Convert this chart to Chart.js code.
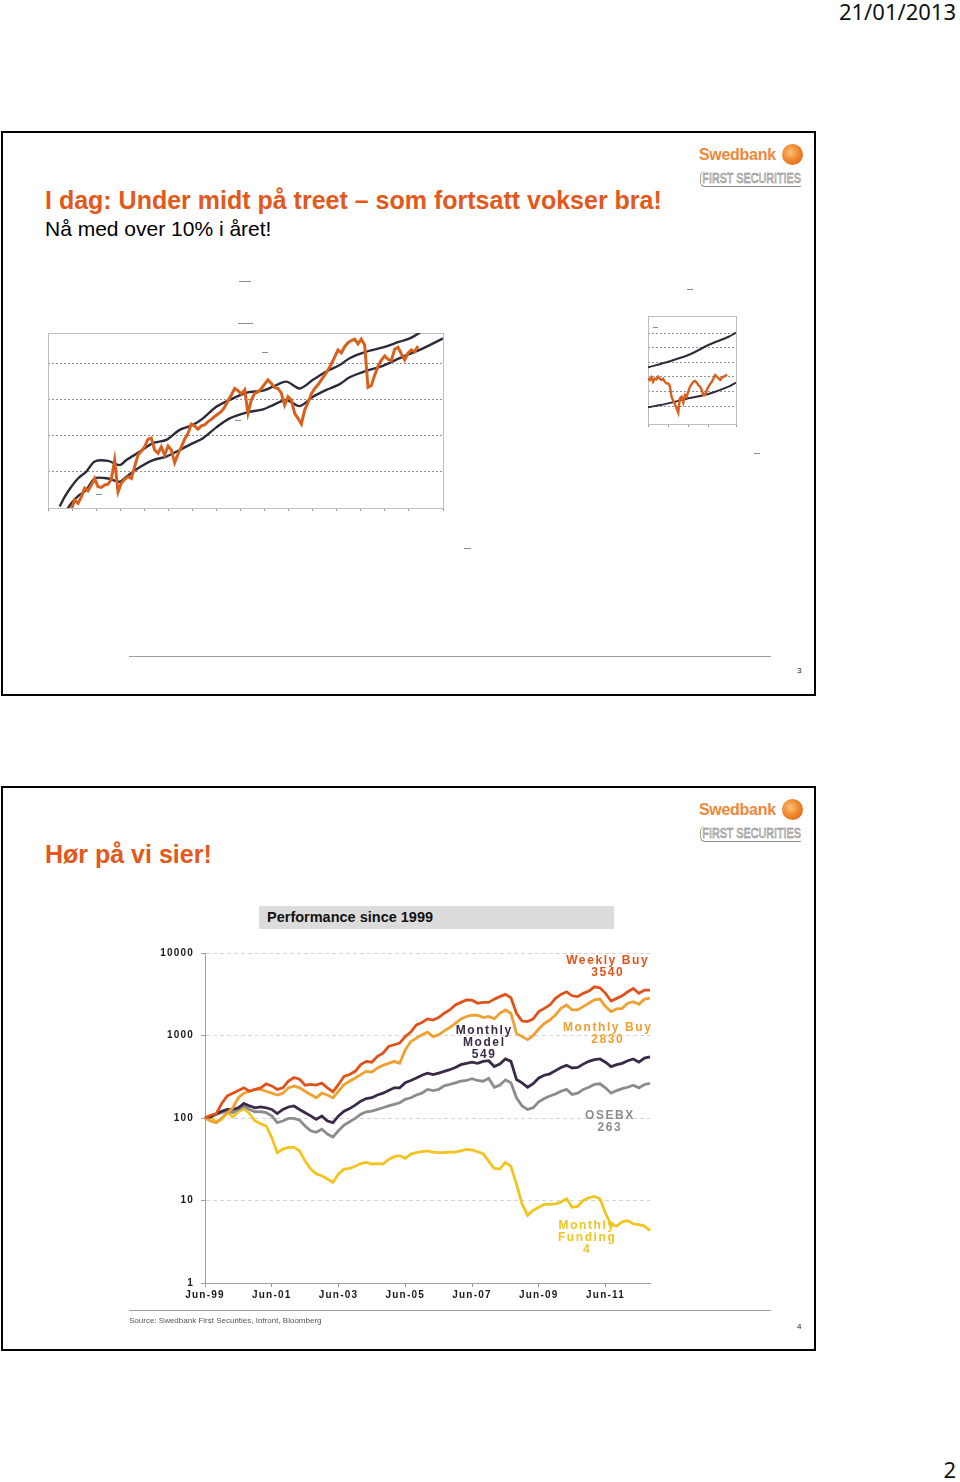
<!DOCTYPE html>
<html>
<head>
<meta charset="utf-8">
<script src="https://cdn.jsdelivr.net/npm/chart.js@4.4.1/dist/chart.umd.min.js"></script>
<style>
  html, body { margin: 0; padding: 0; background: #fff; }
  body { width: 960px; height: 1482px; position: relative; overflow: hidden; font-family: 'Liberation Sans', Arial, sans-serif; }
  .abs { position: absolute; }
  .date { right: 4px; top: -4px; font-family: 'Noto Sans', sans-serif; font-size: 22px; line-height: 30px; color: #111; }
  .pageno { right: 4px; top: 1454px; font-family: 'Noto Sans', sans-serif; font-size: 22px; line-height: 30px; color: #111; }
  .slide { position: absolute; left: 1px; width: 811px; height: 561px; border: 2px solid #000; }
  .title { left: 45px; font-size: 25px; font-weight: bold; color: #E2591B; line-height: 30px; white-space: nowrap; }
  .sub { left: 45px; font-size: 21px; color: #000; line-height: 26px; white-space: nowrap; }
  .foot { left: 129px; width: 642px; height: 0; border-top: 1px solid #9c9c9c; }
  .num { left: 797px; font-size: 8px; color: #222; }
  .source { left: 129px; font-size: 8px; color: #555; }
  .perf { left: 259px; width: 347px; height: 23px; padding-left: 8px; background: #dcdcdc; font-size: 14.5px; font-weight: bold; line-height: 23px; color: #111; }
  .swed { font-size: 16px; font-weight: bold; letter-spacing: -0.3px; color: #EE8838; line-height: 20px; }
  .sun { width: 21px; height: 21px; border-radius: 50%; background: radial-gradient(circle at 40% 40%, #F9C27A 0%, #F08A30 45%, #DA5410 100%); }
  .fs { font-size: 14px; font-weight: normal; color: #f6f6f6; -webkit-text-stroke: 0.6px #767676; line-height: 15px; white-space: nowrap; transform: scaleX(0.77); transform-origin: left top; border-left: 1.5px solid #8a8a8a; border-bottom: 1px solid #8a8a8a; border-radius: 6px 0 0 6px; padding-left: 2px; }
  .mk { position: absolute; height: 1px; background: #8a8a8a; }
  canvas { position: absolute; }
</style>
</head>
<body>

<div class="abs date">21/01/2013</div>

<!-- slide 3 -->
<div class="slide" style="top:131px"></div>
<div class="abs title" style="top:185px">I dag: Under midt på treet – som fortsatt vokser bra!</div>
<div class="abs sub" style="top:216px">Nå med over 10% i året!</div>
<div class="abs swed" style="left:699px; top:145px">Swedbank</div>
<div class="abs sun" style="left:782px; top:144px"></div>
<div class="abs fs" style="left:700px; top:171px">FIRST SECURITIES</div>
<canvas id="mainChart" width="440" height="200" style="left:40px; top:325px"></canvas>
<canvas id="smallChart" width="110" height="130" style="left:640px; top:305px"></canvas>
<div class="abs foot" style="top:656px"></div>
<div class="abs num" style="top:666px">3</div>

<!-- slide 4 -->
<div class="slide" style="top:786px"></div>
<div class="abs title" style="top:839px">Hør på vi sier!</div>
<div class="abs swed" style="left:699px; top:800px">Swedbank</div>
<div class="abs sun" style="left:782px; top:799px"></div>
<div class="abs fs" style="left:700px; top:826px">FIRST SECURITIES</div>
<div class="abs perf" style="top:906px">Performance since 1999</div>
<canvas id="perfChart" width="530" height="372" style="left:140px; top:940px"></canvas>
<div class="abs foot" style="top:1310px"></div>
<div class="abs source" style="top:1316px">Source: Swedbank First Securities, Infront, Bloomberg</div>
<div class="abs num" style="top:1322px">4</div>

<div class="abs pageno">2</div>

<script>
// ---- slide 3, main chart: index against its trend channel ----
const mainStart = 7;
const mainIndex = [
  -0.04, 0.22, 0.13, 0.31, 0.55, 0.48, 0.64, 0.82, 0.59, 0.57,
  0.64, 0.66, 0.80, 1.33, 0.45, 0.69, 0.80, 0.87, 0.82, 1.15,
  1.47, 1.58, 1.70, 1.91, 1.94, 1.61, 1.52, 1.70, 1.47, 1.72,
  1.61, 1.26, 1.50, 1.70, 1.91, 2.07, 2.33, 2.28, 2.19, 2.28,
  2.31, 2.40, 2.46, 2.54, 2.61, 2.68, 2.80, 2.98, 3.14, 3.32,
  3.26, 3.17, 3.28, 2.63, 3.00, 3.19, 3.22, 3.32, 3.44, 3.56,
  3.46, 3.35, 3.32, 3.19, 2.86, 3.09, 3.00, 2.63, 2.49, 2.33,
  2.72, 2.93, 3.17, 3.32, 3.42, 3.56, 3.69, 3.83, 4.00, 4.19,
  4.39, 4.31, 4.48, 4.59, 4.65, 4.69, 4.56, 4.69, 4.53, 3.35,
  3.40, 3.69, 3.93, 4.11, 4.22, 4.13, 4.09, 4.41, 4.46, 4.28,
  4.11, 4.30, 4.39, 4.34, 4.50
];
const channelX = [3.5, 5, 7, 9, 11.5, 14, 18, 21.5, 23.5, 27.5, 31.5, 35.5, 39.5, 43.5, 46.5, 50.5,
  54.5, 59.5, 64.5, 67.5, 71.5, 75.5, 79.5, 83.5, 87.5, 90.5, 95.5, 100.5, 105.5, 108.5, 111.5, 118.5];
const channelUpper = [0.04, 0.31, 0.59, 0.82, 1.01, 1.29, 1.31, 1.19, 1.33, 1.56, 1.80, 1.89, 2.17, 2.31, 2.49, 2.81,
  3.00, 3.20, 3.26, 3.37, 3.51, 3.32, 3.56, 3.79, 3.97, 4.16, 4.34, 4.46, 4.62, 4.71, 4.87, 5.30];
const channelLower = [-0.35, -0.15, 0.13, 0.33, 0.50, 0.82, 0.82, 0.73, 0.87, 1.13, 1.33, 1.43, 1.61, 1.80, 1.94, 2.24,
  2.49, 2.65, 2.74, 2.86, 3.00, 2.83, 3.09, 3.28, 3.44, 3.63, 3.81, 3.95, 4.16, 4.28, 4.39, 4.71];
const mainGrid = [0, 1, 2, 3, 4];

// ---- slide 3, small chart ----
const smallIndex = [
  2.90, 2.79, 2.97, 2.67, 2.90, 2.83, 3.02, 2.88, 2.79, 2.88,
  2.67, 2.56, 2.56, 2.38, 1.64, 1.37, 1.14, 0.84, 0.54, 1.53,
  1.64, 1.23, 1.76, 1.64, 1.99, 2.33, 2.51, 2.67, 2.72, 2.61,
  2.44, 2.33, 2.10, 1.76, 1.76, 2.10, 2.33, 2.51, 2.67, 2.90,
  3.13, 3.02, 2.90, 2.79, 2.95, 3.02, 3.06, 3.18
];
const smallChannelX = [0, 12, 24, 36, 48, 52.4];
const smallUpper = [3.66, 4.05, 4.51, 5.20, 5.77, 6.05];
const smallLower = [0.91, 1.18, 1.53, 1.83, 2.33, 2.61];
const smallGrid = [1, 2, 3, 4, 5, 6];

// ---- slide 4: performance since 1999, every second month from Jun-99 ----
const weeklyBuy = [
  100, 108, 112, 150, 185, 200, 215, 232, 211, 222,
  232, 260, 245, 222, 232, 280, 310, 295, 250, 255,
  250, 265, 232, 208, 255, 320, 336, 368, 443, 486,
  475, 558, 612, 735, 772, 810, 970, 1100, 1344, 1440,
  1590, 1540, 1650, 1860, 2040, 2340, 2520, 2700, 2680, 2460,
  2520, 2520, 2760, 2960, 3150, 2870, 1860, 1500, 1474, 1590,
  1946, 2134, 2340, 2817, 3150, 3389, 3030, 2960, 3240, 3450,
  3894, 3780, 3240, 2620, 2817, 3030, 3389, 3718, 3240, 3550,
  3540
];
const monthlyBuy = [
  100, 92, 88, 100, 116, 133, 176, 200, 211, 222,
  222, 211, 200, 190, 200, 232, 245, 232, 211, 193,
  176, 200, 190, 176, 211, 255, 279, 306, 336, 368,
  360, 404, 435, 460, 486, 460, 670, 847, 929, 1019,
  1100, 970, 1019, 1140, 1250, 1400, 1590, 1700, 1760, 1760,
  1650, 1700, 1590, 1860, 2040, 1860, 1060, 970, 890, 1000,
  1200, 1400, 1540, 1774, 2134, 2340, 2040, 2040, 2240, 2460,
  2700, 2760, 2240, 1946, 2100, 2134, 2460, 2568, 2390, 2760,
  2830
];
const monthlyModel = [
  100, 103, 111, 121, 127, 127, 133, 150, 140, 133,
  136, 133, 127, 113, 127, 136, 140, 127, 116, 106,
  96, 106, 92, 88, 106, 121, 130, 143, 160, 172,
  176, 190, 200, 215, 232, 232, 267, 285, 306, 330,
  350, 336, 350, 368, 385, 410, 443, 460, 475, 460,
  486, 495, 420, 450, 520, 486, 293, 267, 236, 260,
  306, 330, 343, 375, 410, 435, 404, 410, 450, 486,
  510, 520, 475, 420, 443, 460, 495, 520, 475, 533,
  549
];
const osebx = [
  100, 106, 111, 116, 121, 116, 127, 140, 127, 119,
  119, 116, 106, 88, 92, 99, 99, 94, 80, 70,
  67, 73, 64, 59, 70, 82, 90, 99, 111, 119,
  121, 127, 133, 140, 146, 153, 168, 176, 190, 200,
  222, 215, 222, 245, 255, 267, 279, 285, 300, 285,
  279, 303, 236, 250, 290, 267, 176, 140, 127, 133,
  157, 172, 185, 195, 211, 222, 193, 200, 222, 236,
  255, 260, 232, 200, 215, 227, 236, 250, 232, 255,
  263
];
const monthlyFunding = [
  100, 103, 88, 96, 116, 103, 119, 130, 113, 92,
  85, 80, 58, 38, 42, 44, 44, 40, 30, 24,
  21, 20, 18.2, 16.6, 21, 24, 24.5, 26, 28, 29,
  27.7, 28, 27.7, 31.5, 34, 35, 32.5, 36.5, 38, 39,
  40, 38.5, 38, 38, 38.5, 38.5, 40, 41.5, 41, 39,
  37, 30, 24.5, 24, 29, 26, 15.8, 9.1, 6.6, 7.6,
  8.3, 9, 9, 9.1, 9.6, 10.5, 8.3, 8.5, 10, 10.8,
  11.2, 10.5, 7, 5.1, 4.9, 5.5, 5.7, 5.2, 5.1, 4.9,
  4.3
];
const perfTicks = [1, 10, 100, 1000, 10000];
const monthAbbr = ['Jan', 'Feb', 'Mar', 'Apr', 'May', 'Jun', 'Jul', 'Aug', 'Sep', 'Oct', 'Nov', 'Dec'];

const colWeekly = '#E0521A';
const colMBuy = '#F0A030';
const colModel = '#3B2A45';
const colOsebx = '#8C8C8C';
const colFunding = '#F2C41E';

// labels of the lines, placed in chart values (category index, level)
const perfNotes = [
  { lines: ['Weekly Buy', '3540'], at: 72.4, value: 8000, color: colWeekly },
  { lines: ['Monthly Buy', '2830'], at: 72.4, value: 1250, color: colMBuy },
  { lines: ['Monthly', 'Model', '549'], at: 50.2, value: 1150, color: colModel },
  { lines: ['OSEBX', '263'], at: 72.8, value: 106, color: colOsebx },
  { lines: ['Monthly', 'Funding', '4'], at: 68.7, value: 5, color: colFunding }
];

const perfLabels = [];
for (let i = 0; i < weeklyBuy.length; i++) {
  const m = 5 + 2 * i;
  perfLabels.push(monthAbbr[m % 12] + '-' + String((99 + Math.floor(m / 12)) % 100).padStart(2, '0'));
}

const frame = {
  id: 'frame',
  beforeDatasetsDraw(chart) {
    const { ctx, chartArea: a } = chart;
    ctx.save();
    ctx.strokeStyle = '#bdbdbd';
    ctx.lineWidth = 1;
    ctx.strokeRect(Math.round(a.left) + 0.5, Math.round(a.top) + 0.5, Math.round(a.width), Math.round(a.height));
    ctx.restore();
  }
};

const xy = (xs, ys) => ys.map((v, i) => ({ x: xs[i], y: v }));
const seq = (start, ys) => ys.map((v, i) => ({ x: start + i, y: v }));

// main chart
new Chart(document.getElementById('mainChart'), {
  type: 'line',
  data: {
    datasets: [
      { data: seq(mainStart, mainIndex), borderColor: '#D8601C', borderWidth: 3, pointRadius: 0, tension: 0 },
      { data: xy(channelX, channelUpper), borderColor: '#2E2A3C', borderWidth: 2.4, pointRadius: 0, tension: 0.3 },
      { data: xy(channelX, channelLower), borderColor: '#2E2A3C', borderWidth: 2.4, pointRadius: 0, tension: 0.3 }
    ]
  },
  options: {
    responsive: false,
    animation: false,
    layout: { padding: { top: 8, left: 8, right: 37, bottom: 0 } },
    plugins: { legend: { display: false }, tooltip: { enabled: false } },
    scales: {
      x: {
        type: 'linear', min: 0, max: 118.5,
        ticks: { display: false, stepSize: 7.2 },
        grid: { drawOnChartArea: false, tickLength: 3, color: '#999' },
        border: { color: '#aaa' },
        afterFit: s => { s.height = 17; }
      },
      y: {
        min: 0, max: 4.86,
        afterBuildTicks: s => { s.ticks = mainGrid.map(v => ({ value: v })); },
        ticks: { display: false },
        grid: { color: '#8f8f8f', drawTicks: false },
        border: { display: false, dash: [2, 2] },
        afterFit: s => { s.width = 0; }
      }
    }
  },
  plugins: [frame]
});

// small chart
new Chart(document.getElementById('smallChart'), {
  type: 'line',
  data: {
    datasets: [
      { data: seq(0, smallIndex), borderColor: '#D8601C', borderWidth: 2.4, pointRadius: 0, tension: 0 },
      { data: xy(smallChannelX, smallUpper), borderColor: '#2E2A3C', borderWidth: 2, pointRadius: 0, tension: 0.3 },
      { data: xy(smallChannelX, smallLower), borderColor: '#2E2A3C', borderWidth: 2, pointRadius: 0, tension: 0.3 }
    ]
  },
  options: {
    responsive: false,
    animation: false,
    layout: { padding: { top: 11, left: 8, right: 14, bottom: 0 } },
    plugins: { legend: { display: false }, tooltip: { enabled: false } },
    scales: {
      x: {
        type: 'linear', min: 0, max: 52.4,
        ticks: { display: false, stepSize: 12 },
        grid: { drawOnChartArea: false, tickLength: 3, color: '#999' },
        border: { color: '#aaa' },
        afterFit: s => { s.height = 11; }
      },
      y: {
        min: -0.24, max: 7.2,
        afterBuildTicks: s => { s.ticks = smallGrid.map(v => ({ value: v })); },
        ticks: { display: false },
        grid: { color: '#8f8f8f', drawTicks: false },
        border: { display: false, dash: [2, 2] },
        afterFit: s => { s.width = 0; }
      }
    }
  },
  plugins: [frame]
});

// performance chart
const spacing = {
  id: 'spacing',
  beforeUpdate(chart) { chart.ctx.letterSpacing = '1.2px'; },
  beforeDraw(chart) { chart.ctx.letterSpacing = '1.2px'; }
};

const notes = {
  id: 'notes',
  afterDatasetsDraw(chart) {
    const { ctx, scales: { x, y } } = chart;
    ctx.save();
    ctx.font = 'bold 12px "Liberation Sans", Arial, sans-serif';
    ctx.letterSpacing = '1.6px';
    ctx.textAlign = 'center';
    ctx.textBaseline = 'middle';
    perfNotes.forEach(n => {
      const px = x.getPixelForValue(n.at);
      const py = y.getPixelForValue(n.value);
      ctx.fillStyle = n.color;
      n.lines.forEach((t, k) => ctx.fillText(t, px, py + k * 12));
    });
    ctx.restore();
  }
};

const perfLine = (data, color) => ({ data, borderColor: color, borderWidth: 2.8, pointRadius: 0, tension: 0 });

new Chart(document.getElementById('perfChart'), {
  type: 'line',
  data: {
    labels: perfLabels,
    datasets: [
      perfLine(weeklyBuy, colWeekly),
      perfLine(monthlyBuy, colMBuy),
      perfLine(monthlyModel, colModel),
      perfLine(osebx, colOsebx),
      perfLine(monthlyFunding, colFunding)
    ]
  },
  options: {
    responsive: false,
    animation: false,
    layout: { padding: { top: 11, left: 0, right: 20, bottom: 0 } },
    plugins: { legend: { display: false }, tooltip: { enabled: false } },
    scales: {
      x: {
        ticks: {
          autoSkip: false, maxRotation: 0, minRotation: 0, padding: 2,
          color: '#1a1a1a', font: { family: '"Liberation Sans", Arial, sans-serif', size: 10, weight: 'bold' },
          callback: (v, i) => (i % 12 === 0 ? perfLabels[i] : '')
        },
        grid: {
          drawOnChartArea: false, tickLength: 4,
          color: ctx => (ctx.index % 12 === 0 ? '#999' : 'rgba(0,0,0,0)')
        },
        border: { color: '#a0a0a0', width: 1 },
        afterFit: s => { s.height = 29; }
      },
      y: {
        type: 'logarithmic', min: 1, max: 10000,
        afterBuildTicks: s => { s.ticks = perfTicks.map(v => ({ value: v })); },
        ticks: {
          padding: 7, color: '#1a1a1a',
          font: { family: '"Liberation Sans", Arial, sans-serif', size: 10, weight: 'bold' },
          callback: v => String(v)
        },
        grid: { color: '#d4d4d4', tickLength: 4, tickColor: '#a0a0a0' },
        border: { color: '#a0a0a0', width: 1, dash: [4, 3] },
        afterFit: s => { s.width = 65; }
      }
    }
  },
  plugins: [spacing, notes]
});

// tiny unreadable captions of the slide-3 charts, kept as marks
const marks = [
  [239, 281, 12], [238, 323, 15], [262, 352, 6], [235, 420, 6], [96, 494, 6],
  [687, 289, 6], [754, 453, 6], [464, 548, 7], [653, 327, 5]
];
marks.forEach(([l, t, w]) => {
  const d = document.createElement('div');
  d.className = 'mk';
  d.style.left = l + 'px'; d.style.top = t + 'px'; d.style.width = w + 'px';
  document.body.appendChild(d);
});
</script>
</body>
</html>
